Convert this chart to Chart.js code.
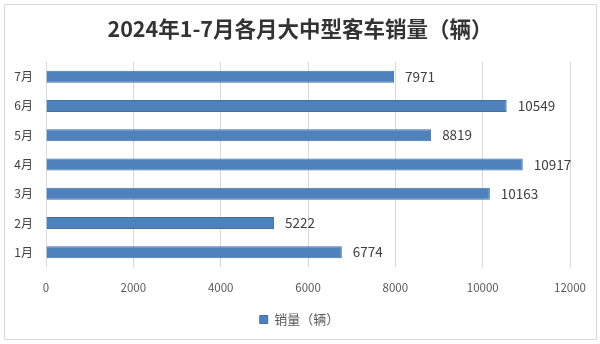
<!DOCTYPE html>
<html>
<head>
<meta charset="utf-8">
<script src="https://cdn.jsdelivr.net/npm/chart.js@4/dist/chart.umd.min.js"></script>
<style>
html,body{margin:0;padding:0;background:#fff;}
#wrap{width:600px;height:344px;position:relative;}
</style>
</head>
<body>
<div id="wrap"><canvas id="c" width="600" height="344"></canvas></div>
<script>
const titleText = '2024年1-7月各月大中型客车销量（辆）';
const seriesName = '销量（辆）';
const categories = ['7月', '6月', '5月', '4月', '3月', '2月', '1月'];
const sales = [7971, 10549, 8819, 10917, 10163, 5222, 6774];
const xTicks = [0, 2000, 4000, 6000, 8000, 10000, 12000];

const CJK = '"Noto Sans CJK SC", "Noto Sans", sans-serif';

const framePlugin = {
  id: 'frame',
  beforeDraw(chart) {
    const ctx = chart.ctx;
    ctx.save();
    ctx.fillStyle = '#fff';
    ctx.fillRect(0, 0, chart.width, chart.height);
    ctx.strokeStyle = '#d9d9d9';
    ctx.lineWidth = 1;
    ctx.strokeRect(4.5, 4.5, 592, 335);
    ctx.font = 'bold 21.5px ' + CJK;
    ctx.fillStyle = '#333333';
    ctx.textAlign = 'center';
    ctx.textBaseline = 'middle';
    ctx.fillText(titleText, 300, 29);
    ctx.restore();
  },
  afterLayout(chart) {
    const lg = chart.legend;
    if (lg) { lg.left += 12; lg.right += 12; }
  }
};

const labelPlugin = {
  id: 'valueLabels',
  afterDatasetsDraw(chart) {
    const ctx = chart.ctx;
    const meta = chart.getDatasetMeta(0);
    ctx.save();
    ctx.font = '13.5px ' + CJK;
    ctx.fillStyle = '#404040';
    ctx.textAlign = 'left';
    ctx.textBaseline = 'middle';
    meta.data.forEach((bar, i) => {
      ctx.fillText(String(chart.data.datasets[0].data[i]), bar.x + 11, bar.y);
    });
    ctx.restore();
  }
};

new Chart(document.getElementById('c'), {
  type: 'bar',
  data: {
    labels: categories,
    datasets: [{
      label: seriesName,
      data: sales,
      backgroundColor: '#4f81bd',
      borderColor: '#41719c',
      borderWidth: 1,
      barPercentage: 0.41,
      categoryPercentage: 1.0
    }]
  },
  options: {
    indexAxis: 'y',
    responsive: false,
    animation: false,
    layout: { padding: { left: 4, right: 29, top: 62, bottom: 8 } },
    scales: {
      x: {
        min: 0, max: 12000,
        afterBuildTicks(axis) { axis.ticks = xTicks.map(v => ({ value: v })); },
        grid: { color: '#d9d9d9', drawTicks: false },
        border: { display: false },
        ticks: {
          padding: 14, color: '#595959', font: { size: 11.5, family: CJK },
          callback: (v) => String(v)
        },
        afterFit(axis) { axis.height = 36; }
      },
      y: {
        grid: { display: false, drawTicks: false },
        border: { display: false },
        ticks: { padding: 13, color: '#404040', font: { size: 12, family: CJK } },
        afterFit(axis) { axis.width = 42; }
      }
    },
    plugins: {
      title: { display: false },
      legend: {
        display: true,
        position: 'bottom',
        labels: {
          boxWidth: 8, boxHeight: 8,
          padding: 10,
          color: '#595959',
          font: { size: 13, family: CJK }
        }
      },
      tooltip: { enabled: false }
    }
  },
  plugins: [framePlugin, labelPlugin]
});
</script>
</body>
</html>
